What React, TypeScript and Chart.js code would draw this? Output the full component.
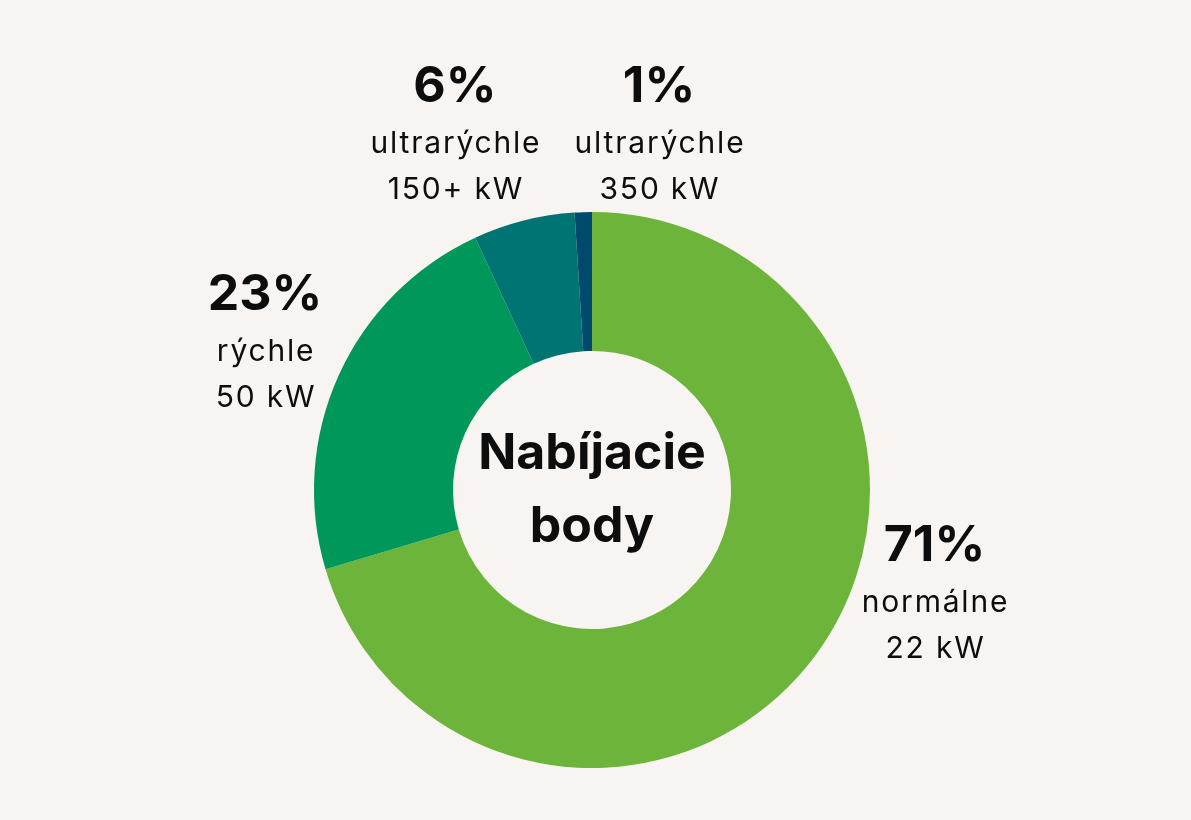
import React, { useEffect, useRef } from "react";
import { Chart, registerables } from "chart.js";

Chart.register(...registerables);

const categories = ["normálne 22 kW", "rýchle 50 kW", "ultrarýchle 150+ kW", "ultrarýchle 350 kW"];
const values = [70.4, 22.7, 5.9, 1.0];
const percentLabels = ["71%", "23%", "6%", "1%"];
const nameLines = [
  ["normálne", "22 kW"],
  ["rýchle", "50 kW"],
  ["ultrarýchle", "150+ kW"],
  ["ultrarýchle", "350 kW"],
];
const colors = ["#6db53a", "#00975a", "#007473", "#004a6e"];
const centerLines = ["Nabíjacie", "body"];

// label anchors relative to doughnut centre, in units of outer radius
const anchors = [
  { dx: 1.232, dy: 0.2 },
  { dx: -1.176, dy: -0.7 },
  { dx: -0.493, dy: -1.45 },
  { dx: 0.241, dy: -1.45 },
];

const FONT = "Inter, 'Noto Sans', sans-serif";

const labelPlugin = {
  id: "labels",
  afterDraw(chart: any) {
    const ctx = chart.ctx;
    const meta = chart.getDatasetMeta(0);
    const arc = meta.data[0];
    const cx = arc.x;
    const cy = arc.y;
    const R = arc.outerRadius;
    ctx.save();
    ctx.textAlign = "center";
    ctx.textBaseline = "middle";
    ctx.fillStyle = "#0d0d0d";
    anchors.forEach((a, i) => {
      const x = cx + a.dx * R;
      const y = cy + a.dy * R;
      ctx.letterSpacing = "0px";
      ctx.font = `700 50px ${FONT}`;
      ctx.fillText(percentLabels[i], x, y);
      ctx.font = `400 30px ${FONT}`;
      ctx.letterSpacing = "1.8px";
      nameLines[i].forEach((t, j) => {
        ctx.fillText(t, x + 1, y + 57 + j * 46);
      });
    });
    ctx.letterSpacing = "0px";
    ctx.font = `700 50px ${FONT}`;
    ctx.fillText(centerLines[0], cx, cy - 36);
    ctx.fillText(centerLines[1], cx, cy + 37);
    ctx.restore();
  },
};

export default function App() {
  const ref = useRef<HTMLCanvasElement | null>(null);
  useEffect(() => {
    if (!ref.current) return;
    const chart = new Chart(ref.current, {
      type: "doughnut",
      data: {
        labels: categories,
        datasets: [
          {
            data: values,
            backgroundColor: colors,
            borderWidth: 0,
          },
        ],
      },
      options: {
        animation: false,
        responsive: false,
        cutout: "50%",
        layout: { padding: { top: 212, bottom: 52, left: 314, right: 321 } },
        plugins: { legend: { display: false }, tooltip: { enabled: false } },
      },
      plugins: [labelPlugin],
    });
    return () => chart.destroy();
  }, []);
  return (
    <div style={{ position: "fixed", inset: 0, background: "#f7f4f1" }}>
      <canvas ref={ref} width={1191} height={820} style={{ display: "block" }} />
    </div>
  );
}
